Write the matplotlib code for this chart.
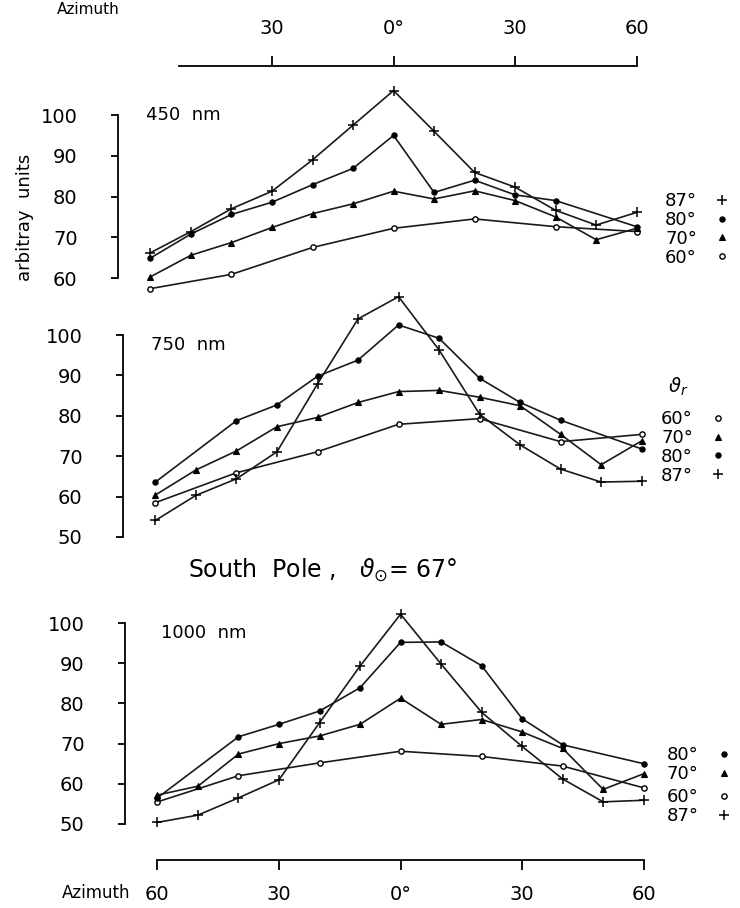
import numpy as np
import matplotlib.pyplot as plt
from matplotlib.lines import Line2D

plt.rcParams['font.family'] = ['DejaVu Sans']
plt.rcParams['mathtext.fontset'] = 'dejavusans'

# azimuth positions (deg), nan = not measured
azimuth = [-60, -50, -40, -30, -20, -10, 0, 10, 20, 30, 40, 50, 60]
nan = np.nan

# 450 nm
p450_87 = [66.2, 71.4, 77.0, 81.3, 89.0, 97.5, 106.0, 96.0, 85.9, 82.3, 76.6, 73.0, 76.1]
p450_80 = [64.9, 70.8, 75.6, 78.6, 82.9, 86.9, 95.0, 81.0, 84.0, 80.4, 79.0, nan, 72.6]
p450_70 = [60.3, 65.6, 68.7, 72.4, 75.8, 78.2, 81.3, 79.4, 81.4, 79.0, 75.0, 69.4, 72.2]
p450_60 = [57.4, nan, 60.9, nan, 67.5, nan, 72.2, nan, 74.5, nan, 72.6, nan, 71.4]

# 750 nm
p750_87 = [54.1, 60.3, 64.4, 71.1, 87.9, 104.0, 109.5, 96.3, 80.4, 72.8, 66.8, 63.6, 63.8]
p750_80 = [63.6, nan, 78.8, 82.7, 89.8, 93.8, 102.5, 99.2, 89.3, 83.3, 78.9, nan, 71.8]
p750_70 = [60.4, 66.6, 71.3, 77.3, 79.6, 83.3, 86.0, 86.3, 84.6, 82.5, 75.4, 67.9, 73.8]
p750_60 = [58.5, nan, 65.9, nan, 71.1, nan, 77.9, nan, 79.3, nan, 73.6, nan, 75.4]

# 1000 nm
p1000_87 = [50.4, 52.2, 56.5, 61.0, 75.2, 89.3, 102.2, 89.8, 77.8, 69.3, 61.2, 55.5, 55.9]
p1000_80 = [56.5, nan, 71.7, 74.8, 78.1, 83.9, 95.2, 95.3, 89.4, 76.2, 69.7, nan, 65.0]
p1000_70 = [57.2, 59.4, 67.4, 70.0, 71.9, 74.8, 81.3, 74.8, 76.0, 72.9, 68.8, 58.6, 62.5]
p1000_60 = [55.5, nan, 62.0, nan, 65.2, nan, 68.1, nan, 66.8, nan, 64.4, nan, 59.0]

W, H = 740, 908


def px_axes(fig, x0, y0, x1, y1):
    # axes box given in pixel coordinates (top-left origin)
    return fig.add_axes([x0 / W, 1 - y1 / H, (x1 - x0) / W, (y1 - y0) / H])


styles = {
    87: dict(marker='+', ms=7, mew=1.1, mfc='k', mec='k'),
    80: dict(marker='o', ms=3.8, mew=0.8, mfc='k', mec='k'),
    70: dict(marker='^', ms=5, mew=0.8, mfc='k', mec='k'),
    60: dict(marker='o', ms=3.8, mew=1.0, mfc='white', mec='k'),
}


def draw_series(ax, vals, key):
    x = np.array(azimuth, dtype=float)
    y = np.array(vals, dtype=float)
    m = np.isfinite(y)
    ax.plot(x[m], y[m], color='#1a1a1a', lw=1.2, zorder=2)
    ax.plot(x[m], y[m], ls='none', zorder=3, **styles[key])


def style_axes(ax, ylo, yhi, yticks):
    for s in ['top', 'right', 'bottom']:
        ax.spines[s].set_visible(False)
    ax.spines['left'].set_bounds(ylo, yhi)
    ax.spines['left'].set_linewidth(1.3)
    ax.set_yticks(yticks)
    ax.tick_params(axis='y', direction='out', length=5, width=1.3,
                   labelsize=14, pad=24)
    ax.set_xticks([])
    ax.set_xlim(-68, 66)
    ax.patch.set_alpha(0)


fig = plt.figure(figsize=(W / 100, H / 100), dpi=100)

# ---- panel 1 : 450 nm
ax1 = px_axes(fig, 118, 82, 661, 298)
for vals, key in [(p450_60, 60), (p450_70, 70), (p450_80, 80), (p450_87, 87)]:
    draw_series(ax1, vals, key)
style_axes(ax1, 60, 100, [60, 70, 80, 90, 100])
ax1.set_ylim(55.1, 108.1)
ax1.spines['top'].set_visible(True)
ax1.spines['top'].set_position(('outward', 11.5))
ax1.spines['top'].set_bounds(-53, 60)
ax1.spines['top'].set_linewidth(1.3)
ax1.xaxis.set_ticks_position('top')
ax1.set_xticks([-30, 0, 30, 60])
ax1.set_xticklabels(['30', '0°', '30', '60'])
ax1.tick_params(axis='x', direction='out', length=7, width=1.3,
                labelsize=14, pad=13)
ax1.text(-61, 100, '450  nm', fontsize=13, va='center', ha='left')

# ---- panel 2 : 750 nm
ax2 = px_axes(fig, 123, 287, 666, 541)
for vals, key in [(p750_60, 60), (p750_70, 70), (p750_80, 80), (p750_87, 87)]:
    draw_series(ax2, vals, key)
style_axes(ax2, 50, 100, [50, 60, 70, 80, 90, 100])
ax2.set_ylim(49.0, 111.9)
ax2.text(-61, 97.5, '750  nm', fontsize=13, va='center', ha='left')

# ---- panel 3 : 1000 nm
ax3 = px_axes(fig, 125, 607, 668, 832)
for vals, key in [(p1000_60, 60), (p1000_70, 70), (p1000_80, 80), (p1000_87, 87)]:
    draw_series(ax3, vals, key)
style_axes(ax3, 50, 100, [50, 60, 70, 80, 90, 100])
ax3.set_ylim(48, 104)
ax3.spines['bottom'].set_visible(True)
ax3.spines['bottom'].set_position(('outward', 20))
ax3.spines['bottom'].set_bounds(-60, 60)
ax3.spines['bottom'].set_linewidth(1.3)
ax3.set_xticks([-60, -30, 0, 30, 60])
ax3.set_xticklabels(['60', '30', '0°', '30', '60'])
ax3.tick_params(axis='x', direction='out', length=7, width=1.3,
                labelsize=14, pad=11)
ax3.text(-59, 97.5, '1000  nm', fontsize=13, va='center', ha='left')

# ---- text
fig.text(25 / W, 1 - 217 / H, 'arbitray  units', rotation=90, fontsize=13,
         ha='center', va='center')
fig.text(57 / W, 1 - 10 / H, 'Azimuth', fontsize=11, ha='left', va='center')
fig.text(62 / W, 1 - 893 / H, 'Azimuth', fontsize=12, ha='left', va='center')
fig.text(188 / W, 1 - 570 / H, 'South  Pole ,   $\\vartheta_{\\odot}$= 67°',
         fontsize=17, ha='left', va='center')
fig.text(668 / W, 1 - 387 / H, '$\\vartheta_r$', fontsize=14,
         ha='left', va='center')


# ---- right-hand keys
def key_legend(ax, order, x, ytop):
    handles = [Line2D([], [], ls='none', color='k', **styles[k]) for k in order]
    labels = [f'{k}°' for k in order]
    leg = ax.legend(handles, labels, loc='upper left', frameon=False,
                    bbox_to_anchor=(x / W, 1 - ytop / H),
                    bbox_transform=fig.transFigure, markerfirst=False,
                    handlelength=0.8, handletextpad=1.0, labelspacing=0.05,
                    borderaxespad=0, borderpad=0, fontsize=13)
    return leg


key_legend(ax1, [87, 80, 70, 60], 665, 192)
key_legend(ax2, [60, 70, 80, 87], 661, 410)
leg3a = key_legend(ax3, [80, 70], 667, 746)
ax3.add_artist(leg3a)
key_legend(ax3, [60, 87], 667, 788)

fig.savefig('out.png', dpi=100, facecolor='white')
plt.close(fig)
